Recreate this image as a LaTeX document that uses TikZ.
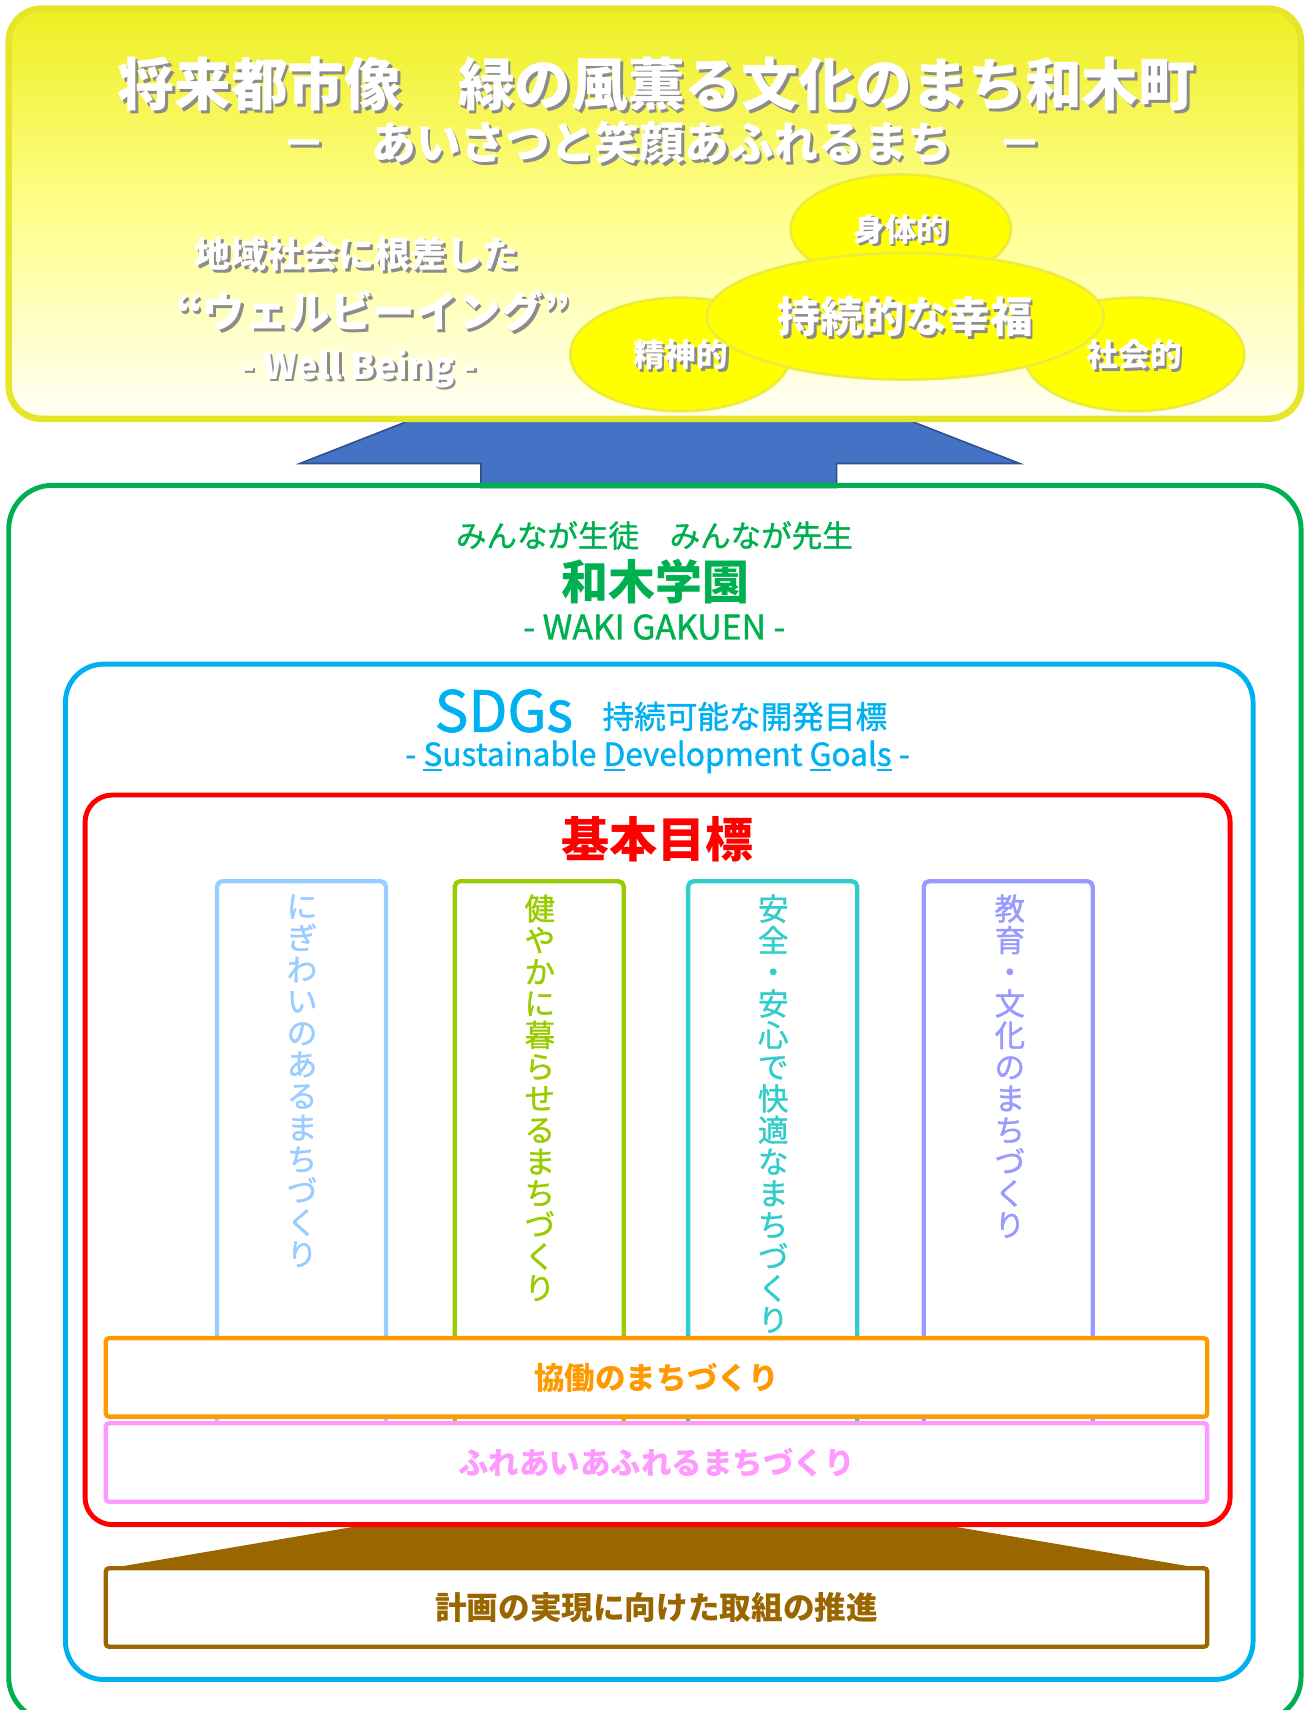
\documentclass[tikz,border=0pt]{standalone}
\usepackage{fontspec}
\setmainfont{Noto Sans CJK JP}
\newfontfamily\medfont[FakeBold=1.2]{Noto Sans CJK JP}
\usepackage{tikz}
\usetikzlibrary{shapes.geometric, positioning, calc}

\definecolor{wakiyellow}{RGB}{230,230,40}
\definecolor{skytop}{RGB}{238,238,34}
\definecolor{skymid}{RGB}{255,255,140}
\definecolor{skybot}{RGB}{255,255,246}
\definecolor{bubblefill}{RGB}{255,255,0}
\definecolor{bubbleline}{RGB}{236,236,60}
\definecolor{arrowblue}{RGB}{68,114,196}
\definecolor{arrowedge}{RGB}{47,82,143}
\definecolor{wakigreen}{RGB}{0,176,80}
\definecolor{sdgblue}{RGB}{0,176,240}
\definecolor{wakired}{RGB}{255,0,0}
\definecolor{pillarA}{RGB}{153,204,255}
\definecolor{pillarB}{RGB}{153,204,0}
\definecolor{pillarC}{RGB}{51,204,204}
\definecolor{pillarD}{RGB}{153,153,255}
\definecolor{kyodoorange}{RGB}{255,153,0}
\definecolor{fureaipink}{RGB}{255,153,255}
\definecolor{suishinbrown}{RGB}{153,102,0}

\newcommand{\fsz}[1]{\fontsize{#1}{#1}\selectfont}
% white text with a grey drop shadow
\newcommand{\litetext}[4]{%
  \node[dropshade, font=\fsz{#3}\bfseries] at ($(#2)+(2.5,2.5)$) {#4};
  \node[litetxt, font=\fsz{#3}\bfseries] (#1) at (#2) {#4};}
\newcommand{\ulfirst}[1]{\setbox0=\hbox{#1}\rlap{\rule[-5pt]{\wd0}{2.5pt}}#1}

\begin{document}
\begin{tikzpicture}[x=1pt, y=-1pt,
    tier/.style={line width=4.5pt, rounded corners=#1},
    bubble/.style={ellipse, draw=bubbleline, fill=bubblefill, line width=2.5pt},
    litetxt/.style={text=white, inner sep=0pt},
    dropshade/.style={text=black!45, inner sep=0pt},
    tate/.style={anchor=north, align=center, inner sep=0pt, font=\fontsize{28}{29}\medfont},
    pillar/.style={line width=4pt, rounded corners=5pt},
    band/.style={draw, fill=white, line width=4pt, rounded corners=3pt, minimum width=1010pt, minimum height=72pt, font=\fsz{28}\bfseries}
]
\useasboundingbox (0,0) rectangle (1199,1568);

% 上向き矢印
\filldraw[fill=arrowblue, draw=arrowedge, line width=1.5pt]
  (441,447) -- (441,425) -- (275,425) -- (604,296) -- (935,425) -- (767,425) -- (767,447) -- cycle;

% 将来都市像
\shade[rounded corners=30pt, top color=skytop, bottom color=skybot, middle color=skymid] (8,8) rectangle (1193,384);
\draw[tier=30pt, draw=wakiyellow, line width=6pt] (8,8) rectangle (1193,384);

\node[bubble, minimum width=202pt, minimum height=100pt] (shintai) at (826,210) {};
\node[bubble, minimum width=202pt, minimum height=104pt] (seishin) at (624,325) {};
\node[bubble, minimum width=202pt, minimum height=104pt] (shakai) at (1040,325) {};
\node[bubble, minimum width=364pt, minimum height=116pt] (kofuku) at (830,290) {};

\litetext{title}{602,77}{52}{将来都市像　緑の風薫る文化のまち和木町}
\litetext{subtitle}{607,131}{41}{－　あいさつと笑顔あふれるまち　－}
\litetext{chiiki}{327,233}{33}{地域社会に根差した}
\litetext{wellbeing}{342,285}{39}{“ウェルビーイング”}
\litetext{wellen}{329,338}{33}{- Well Being -}
\litetext{shintaiT}{shintai}{29}{身体的}
\litetext{seishinT}{seishin}{29}{精神的}
\litetext{shakaiT}{shakai}{29}{社会的}
\litetext{kofukuT}{kofuku}{39}{持続的な幸福}

% 和木学園
\draw[tier=40pt, draw=wakigreen] (8,445) rectangle (1193,1578);
\node[font=\fsz{28}\medfont, text=wakigreen] (minna) at (600,491) {みんなが生徒　みんなが先生};
\node[font=\fsz{43}\bfseries, text=wakigreen] (gakuen) at (601,533) {和木学園};
\node[font=\fsz{31}\medfont, text=wakigreen] (wakien) at (600,575) {- WAKI GAKUEN -};

% SDGs
\draw[tier=35pt, draw=sdgblue] (60,609) rectangle (1149,1540);
\node[font=\fsz{52}\medfont, text=sdgblue, anchor=base] (sdgs) at (462,671) {SDGs};
\node[font=\fsz{29}\medfont, text=sdgblue, anchor=base west] (kaihatsu) at (549,668) {持続可能な開発目標};
\node[font=\fsz{29}\medfont, text=sdgblue] (sdgsen) at (603,694) {- \ulfirst{S}ustainable \ulfirst{D}evelopment \ulfirst{G}oal\ulfirst{s} -};

% 基本目標
\node[font=\fsz{44}\bfseries, text=wakired] (kihon) at (603,770) {基本目標};
\foreach \x/\c in {199/pillarA, 417/pillarB, 631/pillarC, 847/pillarD}
  \draw[pillar, draw=\c] (\x,1312) |- (\x+155,808) -- (\x+155,1312);

\node[tate, text=pillarA] (nigiwai) at (277,820) {に\\ぎ\\わ\\い\\の\\あ\\る\\ま\\ち\\づ\\く\\り};
\node[tate, text=pillarB] (sukoyaka) at (495,820) {健\\や\\か\\に\\暮\\ら\\せ\\る\\ま\\ち\\づ\\く\\り};
\node[tate, text=pillarC] (anzen) at (709,820) {安\\全\\・\\安\\心\\で\\快\\適\\な\\ま\\ち\\づ\\く\\り};
\node[tate, text=pillarD] (kyoiku) at (926,820) {教\\育\\・\\文\\化\\の\\ま\\ち\\づ\\く\\り};

\node[band, draw=kyodoorange, text=kyodoorange] (kyodo) at (602,1263) {協働のまちづくり};
\node[band, draw=fureaipink, text=fureaipink, below=2pt of kyodo] (fureai) {ふれあいあふれるまちづくり};

% 取組の推進
\node[band, draw=suishinbrown, text=suishinbrown, font=\fsz{29}\bfseries] (suishin) at (602,1474) {計画の実現に向けた取組の推進};
\fill[suishinbrown] (336,1398) -- (864,1398) -- ($(suishin.north east)+(-20,0)$) -- ($(suishin.north west)+(18,0)$) -- cycle;
\draw[tier=25pt, draw=wakired] (78,729) rectangle (1128,1398);

\end{tikzpicture}
\end{document}
